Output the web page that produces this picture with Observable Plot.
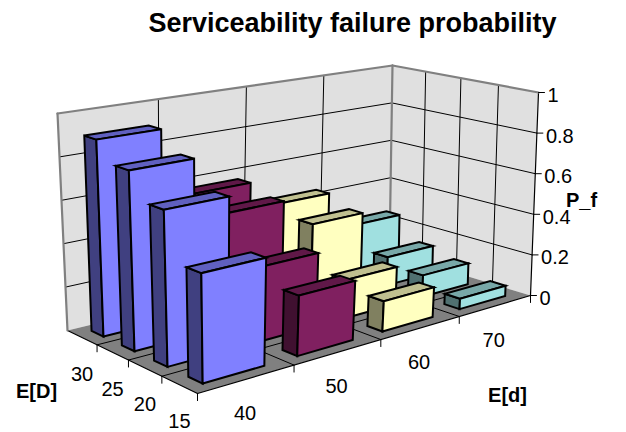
<!DOCTYPE html>
<html><head><meta charset="utf-8">
<script src="https://cdn.jsdelivr.net/npm/d3@7"></script>
<script src="https://cdn.jsdelivr.net/npm/@observablehq/plot@0.6"></script>
<style>html,body{margin:0;padding:0;background:#fff}svg{display:block}</style>
</head><body><div id="c"></div><script>
const meanSmall = ["40","50","60","70"];
const meanLarge = ["15","20","25","30"];
const pfTicks = [0,0.2,0.4,0.6,0.8,1];
const pf15 = [0.475,0.27,0.14,0.05];
const pf20 = [0.69,0.34,0.18,0.105];
const pf25 = [0.81,0.53,0.39,0.14];
const pf30 = [0.90,0.57,0.44,0.25];
const pfRows = [pf15,pf20,pf25,pf30];
const faceColors = [
 {front:"#8080ff",side:"#404080",top:"#6060c0"},
 {front:"#802060",side:"#401030",top:"#601848"},
 {front:"#ffffc0",side:"#808060",top:"#c0c090"},
 {front:"#a0e0e0",side:"#507070",top:"#78a8a8"}];

function homography(p){
  const [[x0,y0],[x1,y1],[x2,y2],[x3,y3]]=p;
  const dx1=x1-x2,dx2=x3-x2,dx3=x0-x1+x2-x3,dy1=y1-y2,dy2=y3-y2,dy3=y0-y1+y2-y3;
  const den=dx1*dy2-dx2*dy1,g=(dx3*dy2-dx2*dy3)/den,h=(dx1*dy3-dx3*dy1)/den;
  const a=x1-x0+g*x1,b=x3-x0+h*x3,d=y1-y0+g*y1,e=y3-y0+h*y3;
  return (u,v)=>{const w=g*u+h*v+1;return [(a*u+b*v+x0)/w,(d*u+e*v+y0)/w];};
}
const floorH=homography([[197,393],[530,295],[389,252],[67,330]]);
const topH=homography([[193,158],[538,92],[392,65],[57,113]]);
// u: E[d] category units, v: E[D] category units, w: probability
function proj(u,v,w){
  const a=floorH(u/4,v/4),b=topH(u/4,v/4);
  return [a[0]+(b[0]-a[0])*w,a[1]+(b[1]-a[1])*w];
}
let n=0;
const polys=[];
function poly(pts,fill){const id=n++;for(const p of pts){const q=proj(...p);polys.push({id,x:q[0],y:q[1],fill});}}
const barPolys=[];
function barPoly(pts,fill){const id=n++;for(const p of pts){const q=proj(...p);barPolys.push({id,x:q[0],y:q[1],fill});}}
const segs=[];
function seg(a,b,group){const id=n++;for(const p of [a,b]){const q=proj(...p);segs.push({id,x:q[0],y:q[1],group});}}

poly([[0,4,0],[4,4,0],[4,4,1],[0,4,1]],"#e0e0e0");
poly([[4,0,0],[4,4,0],[4,4,1],[4,0,1]],"#e0e0e0");
poly([[0,0,0],[4,0,0],[4,4,0],[0,4,0]],"#808080");

for(const t of pfTicks.slice(1,5)){seg([0,4,t],[4,4,t],"grid");seg([4,4,t],[4,0,t],"grid");}
for(let i=1;i<4;i++){
  seg([i,4,0],[i,4,1],"grid");seg([4,i,0],[4,i,1],"grid");
  seg([i,0,0],[i,4,0],"grid");seg([0,i,0],[4,i,0],"grid");
}
seg([0,0,0],[4,0,0],"axis");seg([0,0,0],[0,4,0],"axis");seg([4,0,0],[4,0,1],"axis");
seg([0,4,0],[0,4,1],"wall");seg([0,4,1],[4,4,1],"wall");seg([4,4,1],[4,0,1],"wall");seg([4,4,0],[4,4,1],"wall");

const u0=0.16,u1=0.80,v0=0.3,v1=0.7;
for(let r=3;r>=0;r--){for(let c=3;c>=0;c--){
  const w=pfRows[r][c],a=c+u0,b=c+u1,f=r+v0,k=r+v1,col=faceColors[c];
  barPoly([[a,f,0],[a,k,0],[a,k,w],[a,f,w]],col.side);
  barPoly([[a,f,w],[a,k,w],[b,k,w],[b,f,w]],col.top);
  barPoly([[a,f,0],[b,f,0],[b,f,w],[a,f,w]],col.front);
}}

const catLabels=[];
meanSmall.forEach((t,i)=>{const q=proj(i+.5,0,0);catLabels.push({t,x:q[0]-2,y:q[1]+35});});
meanLarge.forEach((t,i)=>{const q=proj(0,i+.5,0);catLabels.push({t,x:q[0],y:q[1]+37});});
const pfLabels=pfTicks.map(t=>{const q=proj(4,0,t);return {t:String(t),x:q[0]+9,y:q[1]+3};});
const tickSegs=[];
function tickSeg(q,dx,dy){const id=n++;tickSegs.push({id,x:q[0],y:q[1]},{id,x:q[0]+dx,y:q[1]+dy});}
for(let i=0;i<=4;i++){tickSeg(proj(i,0,0),0,7);if(i<4)tickSeg(proj(0,i,0),0,7);}
pfTicks.forEach(t=>tickSeg(proj(4,0,t),6,0));

const sans="Liberation Sans, Arial, sans-serif";
const plot=Plot.plot({
  width:626,height:432,margin:0,
  style:{background:"transparent"},
  x:{domain:[0,626],range:[0,626],axis:null},
  y:{domain:[0,432],range:[0,432],axis:null},
  color:{type:"identity"},
  marks:[
    Plot.line(polys,{x:"x",y:"y",z:"id",fill:"fill",stroke:"none",curve:"linear-closed"}),
    Plot.line(segs.filter(d=>d.group==="grid"),{x:"x",y:"y",z:"id",stroke:"#000",strokeWidth:1}),
    Plot.line(segs.filter(d=>d.group==="axis"),{x:"x",y:"y",z:"id",stroke:"#000",strokeWidth:1.2}),
    Plot.line(segs.filter(d=>d.group==="wall"),{x:"x",y:"y",z:"id",stroke:"#808080",strokeWidth:2.2}),
    Plot.line(tickSegs,{x:"x",y:"y",z:"id",stroke:"#000",strokeWidth:1}),
    Plot.line(barPolys,{x:"x",y:"y",z:"id",fill:"fill",stroke:"#000",strokeWidth:2,strokeLinejoin:"miter",strokeMiterlimit:4,curve:"linear-closed"}),
    Plot.text(catLabels,{x:"x",y:"y",text:"t",fontSize:20,fontFamily:sans,fill:"#000"}),
    Plot.text(pfLabels,{x:"x",y:"y",text:"t",textAnchor:"start",fontSize:20,fontFamily:sans,fill:"#000"}),
    Plot.text(["Serviceability failure probability"],{x:()=>352,y:()=>23,fontSize:27,fontWeight:"bold",fontFamily:sans,fill:"#000"}),
    Plot.text(["P_f"],{x:()=>581,y:()=>200,fontSize:20,fontWeight:"bold",fontFamily:sans,fill:"#000"}),
    Plot.text(["E[d]"],{x:()=>507,y:()=>395,fontSize:20,fontWeight:"bold",fontFamily:sans,fill:"#000"}),
    Plot.text(["E[D]"],{x:()=>36,y:()=>391,fontSize:20,fontWeight:"bold",fontFamily:sans,fill:"#000"})
  ]
});
document.getElementById("c").append(plot);
</script></body></html>
